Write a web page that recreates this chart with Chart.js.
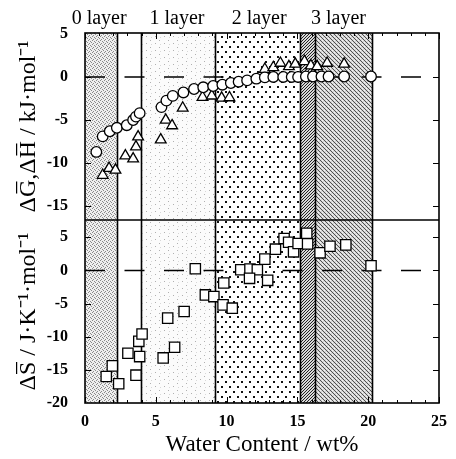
<!DOCTYPE html>
<html><head><meta charset="utf-8">
<script src="https://cdn.jsdelivr.net/npm/chart.js@4/dist/chart.umd.min.js"></script>
<style>html,body{margin:0;padding:0;background:#fff}</style>
</head><body>
<canvas id="c" width="456" height="459"></canvas>
<script>
// ---- data ----
const xTicks = [0, 5, 10, 15, 20, 25];
const topTicks = [5, 0, -5, -10, -15];
const bottomTicks = [5, 0, -5, -10, -15, -20];
const layerLabels = ['0 layer', '1 layer', '2 layer', '3 layer'];
const layerLabelX = [1.0, 6.5, 12.3, 17.9];
const regionEdges = [0, 2.25, 3.95, 9.15, 15.2, 16.25, 20.3, 25];

const circleX = [0.8, 1.25, 1.75, 2.25, 2.95, 3.4, 3.6, 3.86,
  5.4, 5.75, 6.2, 6.95, 7.7, 8.35, 9.05, 9.7, 10.3, 10.85, 11.45, 12.1, 12.7, 13.3, 14.0, 14.6, 15.05, 15.6, 16.1, 16.7, 17.2, 18.3, 20.2];
const circleY = [-8.7, -6.9, -6.3, -5.9, -5.6, -5.0, -4.6, -4.2,
  -3.5, -2.75, -2.2, -1.8, -1.4, -1.2, -1.05, -0.9, -0.7, -0.55, -0.4, -0.2, -0.05, 0, 0, 0, 0, 0.05, 0.05, 0.05, 0.05, 0.05, 0.05];

const triX = [1.25, 1.7, 2.15, 2.85, 3.4, 3.6, 3.75,
  5.35, 5.7, 6.15, 6.9, 8.3, 8.95, 9.65, 10.2,
  12.7, 13.3, 13.8, 14.4, 14.85, 15.5, 15.95, 16.4, 17.1, 18.3];
const triY = [-11.4, -10.6, -10.8, -9.15, -9.5, -8.1, -6.95,
  -7.3, -5.0, -5.65, -3.6, -2.35, -2.2, -2.45, -2.4,
  0.9, 1.1, 1.6, 1.2, 1.5, 1.8, 1.3, 1.2, 1.6, 1.5];

const sqX = [1.5, 1.93, 2.38, 3.03, 3.6, 3.86, 3.8, 4.03, 5.52, 6.33, 5.84, 7.0,
  7.79, 8.5, 9.1, 9.75, 10.4, 9.8, 11.0, 11.65, 12.17, 11.62, 12.9, 12.7,
  13.45, 14.06, 14.38, 14.73, 15.05, 15.66, 15.72, 16.6, 17.3, 18.42, 20.2];
const sqY = [-16.0, -14.4, -17.1, -12.5, -15.8, -13.0, -10.7, -9.6, -13.2, -11.6, -7.2, -6.2,
  0.25, -3.7, -3.95, -5.2, -5.7, -1.9, 0.1, 0.2, 0.1, -1.2, -1.5, 1.7,
  3.2, 4.8, 4.25, 2.8, 4.05, 5.6, 4.0, 2.65, 3.65, 3.85, 0.7];

const zeroLineX = [0, 25];
const zeroLineY = [0, 0];

// ---- helpers ----
const pts = (xs, ys) => xs.map((x, i) => ({x, y: ys[i]}));
const SERIF = "'Liberation Serif','Times New Roman',serif";

function tile(w, h, fn) {
  const c = document.createElement('canvas'); c.width = w; c.height = h;
  const g = c.getContext('2d'); fn(g); return c;
}
const tiles = [
  // 0 - 2.25 fine gray stipple
  tile(4, 4, g => { g.fillStyle = '#efefef'; g.fillRect(0,0,4,4); g.fillStyle = '#8a8a8a';
    [[0,0],[2,1],[1,3],[3,2]].forEach(([a,b]) => g.fillRect(a,b,1,1)); }),
  // 2.25 - 3.95 white
  null,
  // 3.95 - 9.15 very light sparse stipple
  tile(9, 7, g => { g.fillStyle = '#fbfbfb'; g.fillRect(0,0,9,7); g.fillStyle = '#b0b0b0';
    g.fillRect(2,1,1,1); g.fillRect(6,5,1,1); g.fillStyle='#d8d8d8'; g.fillRect(7,2,1,1); }),
  // 9.15 - 15.2 coarse dots
  tile(8, 10, g => { g.fillStyle = '#fff'; g.fillRect(0,0,8,10); g.fillStyle = '#111';
    g.fillRect(1,1,2,2); g.fillRect(5,6,2,2); }),
  // 15.2 - 16.25 dense dark stipple
  tile(3, 3, g => { g.fillStyle = '#d8d8d8'; g.fillRect(0,0,3,3); g.fillStyle = '#222';
    g.fillRect(0,0,1,1); g.fillRect(2,1,1,1); g.fillRect(1,2,1,1); }),
  // 16.25 - 20.3 diagonal hatch gray
  tile(4, 4, g => { g.fillStyle = '#d6d6d6'; g.fillRect(0,0,4,4); g.fillStyle = '#505050';
    for (let i = 0; i < 4; i++) g.fillRect(i, i, 1, 1); g.fillStyle = '#f4f4f4'; g.fillRect(2,0,1,1); g.fillRect(0,2,1,1); }),
  // 20.3 - 25 white
  null
];

const backdrop = {
  id: 'backdrop',
  beforeDatasetsDraw(chart) {
    const {ctx, chartArea: a, scales} = chart;
    const xs = scales.x;
    ctx.save();
    for (let i = 0; i < regionEdges.length - 1; i++) {
      const x0 = xs.getPixelForValue(regionEdges[i]);
      const x1 = xs.getPixelForValue(regionEdges[i + 1]);
      if (tiles[i]) {
        ctx.fillStyle = ctx.createPattern(tiles[i], 'repeat');
        ctx.fillRect(x0, a.top, x1 - x0, a.bottom - a.top);
      }
    }
    ctx.strokeStyle = '#000'; ctx.lineWidth = 1.6;
    for (let i = 1; i < regionEdges.length - 1; i++) {
      const x = Math.round(xs.getPixelForValue(regionEdges[i])) + 0.5;
      ctx.beginPath(); ctx.moveTo(x, a.top); ctx.lineTo(x, a.bottom); ctx.stroke();
    }
    ctx.restore();
  },
  afterDatasetsDraw(chart) {
    const {ctx, chartArea: a, scales} = chart;
    const xs = scales.x, yt = scales.yTop, yb = scales.yBottom;
    ctx.save();
    ctx.strokeStyle = '#000';
    ctx.lineWidth = 1.6;
    ctx.strokeRect(a.left, a.top, a.right - a.left, a.bottom - a.top);
    ctx.beginPath(); ctx.moveTo(a.left, yt.bottom); ctx.lineTo(a.right, yt.bottom); ctx.stroke();
    ctx.lineWidth = 1;
    // x ticks (inward, top and bottom)
    for (let v = 0; v <= 25; v++) {
      const x = Math.round(xs.getPixelForValue(v)) + 0.5;
      const L = v % 5 === 0 ? 6 : 3;
      ctx.beginPath();
      ctx.moveTo(x, a.bottom); ctx.lineTo(x, a.bottom - L);
      ctx.moveTo(x, a.top); ctx.lineTo(x, a.top + L);
      ctx.stroke();
    }
    // y ticks (inward, left and right)
    [[yt, topTicks], [yb, bottomTicks]].forEach(([s, tk]) => {
      tk.forEach(v => {
        const y = Math.round(s.getPixelForValue(v)) + 0.5;
        if (y < s.top + 2 || y > s.bottom - 2) return;
        ctx.beginPath();
        ctx.moveTo(a.left, y); ctx.lineTo(a.left + 6, y);
        ctx.moveTo(a.right, y); ctx.lineTo(a.right - 6, y);
        ctx.stroke();
      });
    });
    ctx.restore();
  },
  afterDraw(chart) {
    const {ctx, scales} = chart;
    ctx.save();
    ctx.fillStyle = '#000';
    ctx.font = '20px ' + SERIF;
    ctx.textAlign = 'center';
    ctx.textBaseline = 'alphabetic';
    layerLabels.forEach((t, i) => ctx.fillText(t, scales.x.getPixelForValue(layerLabelX[i]), 24));
    ctx.restore();
  }
};

const tickFont = {family: SERIF, size: 16, weight: 'bold'};
const titleFont = {family: SERIF, size: 24};

function yScale(min, max, ticks, weight, title) {
  return {
    type: 'linear', position: 'left', stack: 'panels', stackWeight: weight,
    min, max,
    grid: {display: false, drawTicks: false},
    border: {display: false},
    afterBuildTicks: s => { s.ticks = ticks.map(v => ({value: v})); },
    afterFit: s => { s.width = 85; },
    ticks: {font: tickFont, color: '#000', padding: 17, autoSkip: false, callback: v => String(v)},
    title: {display: true, text: title, font: titleFont, color: '#000', padding: {top: 14, bottom: 0}}
  };
}

new Chart(document.getElementById('c'), {
  type: 'scatter',
  data: {
    datasets: [
      {label: 'ΔG', data: pts(circleX, circleY), yAxisID: 'yTop', pointStyle: 'circle',
       pointRadius: 5.3, borderColor: '#000', backgroundColor: '#fff', borderWidth: 1.3},
      {label: 'ΔH', data: pts(triX, triY), yAxisID: 'yTop', pointStyle: 'triangle',
       pointRadius: 6.2, borderColor: '#000', backgroundColor: '#fff', borderWidth: 1.3},
      {label: 'ΔS', data: pts(sqX, sqY), yAxisID: 'yBottom', pointStyle: 'rect',
       pointRadius: 7.3, borderColor: '#000', backgroundColor: '#fff', borderWidth: 1.3},
      {type: 'line', data: pts(zeroLineX, zeroLineY), yAxisID: 'yTop', borderColor: '#000',
       borderWidth: 1.5, borderDash: [20, 19.5], pointRadius: 0, fill: false},
      {type: 'line', data: pts(zeroLineX, zeroLineY), yAxisID: 'yBottom', borderColor: '#000',
       borderWidth: 1.5, borderDash: [20, 19.5], pointRadius: 0, fill: false}
    ]
  },
  options: {
    responsive: false, animation: false, devicePixelRatio: 1,
    layout: {padding: {top: 33, right: 4, left: 0, bottom: 0}},
    plugins: {legend: {display: false}, tooltip: {enabled: false}},
    scales: {
      x: {
        type: 'linear', position: 'bottom', min: 0, max: 25,
        grid: {display: false, drawTicks: false}, border: {display: false},
        afterBuildTicks: s => { s.ticks = xTicks.map(v => ({value: v})); },
        afterFit: s => { s.height = 56; },
        ticks: {font: tickFont, color: '#000', padding: 9, maxRotation: 0, autoSkip: false, callback: v => String(v)},
        title: {display: true, text: 'Water Content / wt%', font: {family: SERIF, size: 23}, color: '#000', padding: {top: 0, bottom: 0}}
      },
      yBottom: yScale(-20, 7.6, bottomTicks, 183, 'ΔS\u0305 / J·K⁻¹·mol⁻¹'),
      yTop: yScale(-16.6, 5.1, topTicks, 187, 'ΔG\u0305,ΔH\u0305 / kJ·mol⁻¹')
    }
  },
  plugins: [backdrop]
});
</script>
</body></html>
